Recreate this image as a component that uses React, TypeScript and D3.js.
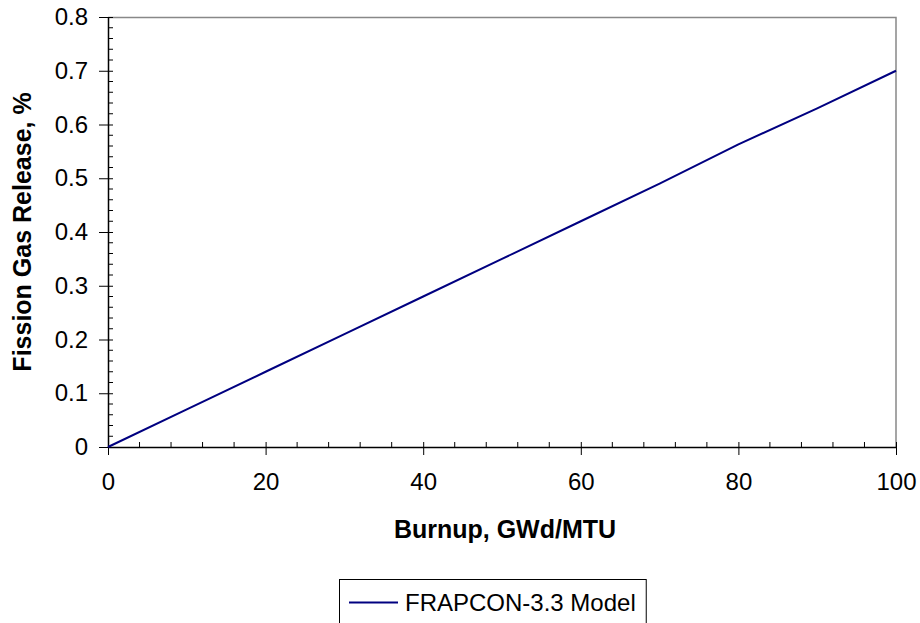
import React, { useRef, useEffect } from 'react';
import * as d3 from 'd3';

const burnup = [0, 10, 20, 30, 40, 50, 60, 70, 80, 90, 100];
const fgr = [0, 0.07, 0.14, 0.21, 0.28, 0.35, 0.42, 0.49, 0.563, 0.63, 0.7];
const xTicks = [0, 20, 40, 60, 80, 100];
const yTicks = [0, 0.1, 0.2, 0.3, 0.4, 0.5, 0.6, 0.7, 0.8];
const seriesName = 'FRAPCON-3.3 Model';

const W = 920;
const H = 623;

const App: React.FC = () => {
  const svgRef = useRef<SVGSVGElement>(null);

  useEffect(() => {
    if (!svgRef.current) return;
    const svg = d3.select(svgRef.current);
    svg.selectAll('*').remove();

    const margin = { top: 17, right: 24, bottom: 176, left: 108 };
    const width = W - margin.left - margin.right;
    const height = H - margin.top - margin.bottom;
    const font = 'Arial, "Liberation Sans", sans-serif';

    const g = svg.append('g').attr('transform', `translate(${margin.left},${margin.top})`);

    const x = d3.scaleLinear().domain([0, 100]).range([0, width]);
    const y = d3.scaleLinear().domain([0, 0.8]).range([height, 0]);

    // top and right frame (gray)
    g.append('path')
      .attr('d', `M0,0.5H${width}V${height}`)
      .attr('fill', 'none')
      .attr('stroke', '#888')
      .attr('stroke-width', 1.5);

    // minor ticks
    const xMinor = d3.range(0, 101, 4).filter(v => v % 20 !== 0);
    g.selectAll('.xminor')
      .data(xMinor)
      .enter()
      .append('line')
      .attr('x1', d => x(d))
      .attr('x2', d => x(d))
      .attr('y1', height)
      .attr('y2', height - 5)
      .attr('stroke', '#000');
    const yMinor = d3.range(0, 41).map(i => i * 0.02).filter((_, i) => i % 5 !== 0);
    g.selectAll('.yminor')
      .data(yMinor)
      .enter()
      .append('line')
      .attr('x1', 0)
      .attr('x2', 5)
      .attr('y1', d => y(d))
      .attr('y2', d => y(d))
      .attr('stroke', '#000');

    // x axis
    const xAxis = g.append('g')
      .attr('transform', `translate(0,${height})`)
      .call(d3.axisBottom(x).tickValues(xTicks).tickSize(8).tickSizeOuter(0).tickPadding(18).tickFormat(d3.format('d')));
    xAxis.select('.domain').attr('stroke', '#000').attr('stroke-width', 1.5);
    xAxis.selectAll('.tick line').attr('y1', -5).attr('stroke', '#000');
    xAxis.selectAll('text').attr('font-family', font).attr('font-size', 24).attr('fill', '#000');

    // y axis
    const yAxis = g.append('g')
      .call(d3.axisLeft(y).tickValues(yTicks).tickSize(9).tickSizeOuter(0).tickPadding(11).tickFormat(d => (d === 0 ? '0' : d3.format('.1f')(d as number))));
    yAxis.select('.domain').attr('stroke', '#000').attr('stroke-width', 1.5);
    yAxis.selectAll('.tick line').attr('x1', 5).attr('stroke', '#000');
    yAxis.selectAll('text').attr('font-family', font).attr('font-size', 24).attr('fill', '#000');

    // line
    const line = d3.line<number>()
      .x((_, i) => x(burnup[i]))
      .y(d => y(d));
    g.append('path')
      .datum(fgr)
      .attr('fill', 'none')
      .attr('stroke', '#000080')
      .attr('stroke-width', 2)
      .attr('d', line);

    // axis titles
    svg.append('text')
      .attr('x', 505)
      .attr('y', 538)
      .attr('text-anchor', 'middle')
      .attr('font-family', font)
      .attr('font-size', 25)
      .attr('font-weight', 'bold')
      .text('Burnup, GWd/MTU');

    svg.append('text')
      .attr('transform', `translate(31,${margin.top + height / 2}) rotate(-90)`)
      .attr('text-anchor', 'middle')
      .attr('font-family', font)
      .attr('font-size', 25)
      .attr('font-weight', 'bold')
      .text('Fission Gas Release, %');

    // legend
    const lg = svg.append('g').attr('transform', 'translate(339,579)');
    const box = lg.append('rect')
      .attr('x', 0.5)
      .attr('y', 0.5)
      .attr('height', 46)
      .attr('fill', '#fff')
      .attr('stroke', '#000');
    lg.append('line')
      .attr('x1', 10)
      .attr('x2', 59)
      .attr('y1', 23.5)
      .attr('y2', 23.5)
      .attr('stroke', '#000080')
      .attr('stroke-width', 2);
    const lt = lg.append('text')
      .attr('x', 66)
      .attr('y', 32)
      .attr('font-family', font)
      .attr('font-size', 24)
      .text(seriesName);
    const tw = (lt.node() as SVGTextElement).getComputedTextLength();
    box.attr('width', 66 + tw + 10);
  }, []);

  return <svg ref={svgRef} width={W} height={H} style={{ display: 'block', position: 'absolute', left: 0, top: 0 }} />;
};

export default App;
